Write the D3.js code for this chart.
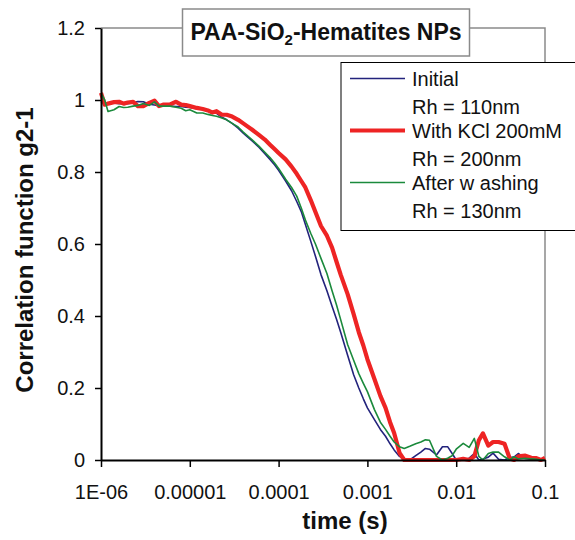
<!DOCTYPE html>
<html>
<head>
<meta charset="utf-8">
<script src="https://cdn.jsdelivr.net/npm/d3@7"></script>
<style>
body{margin:0;background:#fff;}
svg{display:block;font-family:"Liberation Sans",Arial,sans-serif;}
</style>
</head>
<body>
<svg></svg>
<script>
// lag times of the correlator (s), shared by the three curves
const lagTimes = [1e-6, 1.1e-6, 1.2e-6, 1.4e-6, 1.6e-6, 1.8e-6, 2e-6, 2.3e-6, 2.6e-6, 3e-6, 3.5e-6, 4e-6, 4.5e-6, 5e-6, 6e-6, 7e-6, 8e-6, 9e-6,
  1e-5, 1.2e-5, 1.4e-5, 1.6e-5, 1.8e-5, 2e-5, 2.3e-5, 2.6e-5, 3e-5, 3.5e-5, 4e-5, 4.5e-5, 5e-5, 6e-5, 7e-5, 8e-5, 9e-5,
  1e-4, 1.2e-4, 1.4e-4, 1.6e-4, 1.8e-4, 2e-4, 2.3e-4, 2.6e-4, 3e-4, 3.5e-4, 4e-4, 4.5e-4, 5e-4, 6e-4, 7e-4, 8e-4, 9e-4,
  1e-3, 1.2e-3, 1.4e-3, 1.6e-3, 1.8e-3, 2e-3, 2.3e-3, 2.6e-3, 3e-3, 3.5e-3, 4e-3, 4.5e-3, 5e-3, 6e-3, 7e-3, 8e-3, 9e-3,
  1e-2, 1.2e-2, 1.4e-2, 1.6e-2, 1.8e-2, 2e-2, 2.3e-2, 2.6e-2, 3e-2, 3.5e-2, 4e-2, 4.5e-2, 5e-2, 6e-2, 7e-2, 8e-2, 9e-2, 0.1];

// g2-1 values
const g2Initial = [0.995, 0.99, 0.99, 0.992, 0.99, 0.99, 0.99, 0.992, 0.996, 0.995, 0.988, 0.986, 0.984, 0.983, 0.983, 0.982, 0.982, 0.98,
  0.979, 0.976, 0.974, 0.971, 0.966, 0.963, 0.952, 0.945, 0.935, 0.922, 0.908, 0.897, 0.887, 0.869, 0.851, 0.835, 0.82,
  0.805, 0.775, 0.748, 0.718, 0.69, 0.655, 0.608, 0.566, 0.515, 0.47, 0.427, 0.39, 0.355, 0.29, 0.237, 0.2, 0.17,
  0.145, 0.112, 0.085, 0.066, 0.045, 0.028, 0.01, 0.002, 0, 0.012, 0.022, 0.032, 0.03, 0.014, 0.037, 0.037, 0.018,
  0, 0, 0.005, 0.018, 0, 0.003, 0.008, 0.019, 0.002, 0, 0.006, 0.009, 0.018, 0.004, 0.002, 0, 0, 0];

const g2KCl = [1.02, 0.987, 0.99, 0.994, 0.995, 0.99, 0.993, 0.995, 0.983, 0.983, 0.992, 0.998, 0.983, 0.987, 0.988, 0.995, 0.987, 0.986,
  0.983, 0.978, 0.975, 0.971, 0.965, 0.969, 0.959, 0.959, 0.954, 0.945, 0.935, 0.926, 0.918, 0.903, 0.89, 0.876, 0.864,
  0.853, 0.835, 0.815, 0.795, 0.775, 0.757, 0.722, 0.689, 0.65, 0.623, 0.59, 0.55, 0.515, 0.46, 0.405, 0.355, 0.318,
  0.28, 0.225, 0.178, 0.145, 0.105, 0.075, 0.02, 0, 0, 0, 0, 0, 0, 0, 0, 0, 0,
  0, 0.003, 0, 0.01, 0.055, 0.074, 0.04, 0.05, 0.05, 0.045, 0.005, 0, 0.01, 0.012, 0.006, 0.005, 0, 0.006];

const g2Washed = [1.019, 1.0, 0.968, 0.973, 0.982, 0.979, 0.98, 0.983, 0.985, 0.99, 0.985, 0.995, 0.983, 0.983, 0.983, 0.98, 0.977, 0.97,
  0.973, 0.964, 0.964, 0.96, 0.957, 0.955, 0.95, 0.945, 0.935, 0.925, 0.911, 0.9, 0.89, 0.872, 0.855, 0.84, 0.825,
  0.81, 0.78, 0.757, 0.733, 0.7, 0.667, 0.63, 0.6, 0.56, 0.518, 0.47, 0.43, 0.39, 0.32, 0.277, 0.24, 0.213,
  0.19, 0.14, 0.105, 0.085, 0.066, 0.05, 0.037, 0.032, 0.038, 0.045, 0.05, 0.056, 0.055, 0.01, 0, 0.005, 0.012,
  0.03, 0.046, 0.035, 0.06, 0.01, 0, 0.018, 0.022, 0.022, 0.009, 0, 0.009, 0.003, 0.005, 0.003, 0.002, 0, 0];

const xTickValues = [1e-6, 1e-5, 1e-4, 1e-3, 1e-2, 1e-1];
const xTickLabels = ["1E-06", "0.00001", "0.0001", "0.001", "0.01", "0.1"];
const yTickValues = [0, 0.2, 0.4, 0.6, 0.8, 1, 1.2];
const yTickLabels = ["0", "0.2", "0.4", "0.6", "0.8", "1", "1.2"];
const legendLabels = [["Initial", "Rh = 110nm"], ["With KCl 200mM", "Rh = 200nm"], ["After w ashing", "Rh = 130nm"]];

const w = 575;//width of chart
const h = 540;//height of chart
const plotLeft = 101, plotRight = 545, plotTop = 28, plotBottom = 460;//plot area

const colors = ["#23237c", "#ee2424", "#1b8a3c"];
const widths = [1.6, 4.2, 1.6];

let svg = d3.select("svg");
let xScale, yScale;

let drawChart = () => {
  svg.attr("width", w).attr("height", h);
  //gray frame on top and right of the plot area
  svg.append("path")
    .attr("d", `M${plotLeft},${plotTop}H${plotRight}V${plotBottom}`)
    .attr("fill", "none")
    .attr("stroke", "#8a8a8a")
    .attr("stroke-width", 1.5);
};

let generateScales = () => {
  xScale = d3.scaleLog().domain([1e-6, 0.1]).range([plotLeft, plotRight]);
  yScale = d3.scaleLinear().domain([0, 1.2]).range([plotBottom, plotTop]);
};

let drawLines = () => {
  let line = d3.line()
    .x((d, i) => xScale(lagTimes[i]))
    .y(d => yScale(d));
  [g2Initial, g2KCl, g2Washed].forEach((series, k) => {
    svg.append("path")
      .datum(series)
      .attr("d", line)
      .attr("fill", "none")
      .attr("stroke", colors[k])
      .attr("stroke-width", widths[k])
      .attr("stroke-linejoin", "round");
  });
};

let generateAxis = () => {
  let xAxis = d3.axisBottom(xScale)
    .tickValues(xTickValues)
    .tickFormat((d, i) => xTickLabels[i])
    .tickSize(7)
    .tickSizeOuter(0);
  let yAxis = d3.axisLeft(yScale)
    .tickValues(yTickValues)
    .tickFormat((d, i) => yTickLabels[i])
    .tickSize(6)
    .tickSizeOuter(0);

  let gx = svg.append("g")
    .attr("transform", "translate(0," + plotBottom + ")")
    .call(xAxis);
  let gy = svg.append("g")
    .attr("transform", "translate(" + plotLeft + ",0)")
    .call(yAxis);

  [gx, gy].forEach(g => {
    g.select(".domain").attr("stroke", "#000").attr("stroke-width", 2);
    g.selectAll(".tick line").attr("stroke", "#000").attr("stroke-width", 1.5);
    g.selectAll(".tick text")
      .attr("fill", "#111")
      .style("font-size", "20px")
      .style("font-family", "'Liberation Sans', Arial, sans-serif");
  });
  gx.selectAll(".tick text").attr("y", 25);
  gy.selectAll(".tick text").attr("x", -16);

  //axis titles
  svg.append("text")
    .attr("transform", "translate(33,250) rotate(-90)")
    .attr("text-anchor", "middle")
    .style("font-size", "24px")
    .style("font-weight", "bold")
    .attr("fill", "#111")
    .text("Correlation function g2-1");
  svg.append("text")
    .attr("x", 345)
    .attr("y", 529)
    .attr("text-anchor", "middle")
    .style("font-size", "24px")
    .style("font-weight", "bold")
    .attr("fill", "#111")
    .text("time (s)");
};

let drawTitle = () => {
  svg.append("rect")
    .attr("x", 182.5).attr("y", 9)
    .attr("width", 287).attr("height", 47)
    .attr("fill", "#fff")
    .attr("stroke", "#8a8a8a")
    .attr("stroke-width", 1.5);
  let t = svg.append("text")
    .attr("x", 326).attr("y", 40)
    .attr("text-anchor", "middle")
    .style("font-size", "23px")
    .style("font-weight", "bold")
    .attr("fill", "#111");
  t.append("tspan").text("PAA-SiO");
  t.append("tspan").attr("dy", 5).style("font-size", "15px").text("2");
  t.append("tspan").attr("dy", -5).text("-Hematites NPs");
};

let drawLegend = () => {
  svg.append("rect")
    .attr("x", 341).attr("y", 62.5)
    .attr("width", 245).attr("height", 168)
    .attr("fill", "#fff")
    .attr("stroke", "#000")
    .attr("stroke-width", 1);
  let items = svg.selectAll(".legend-item")
    .data(legendLabels)
    .enter()
    .append("g")
    .attr("class", "legend-item")
    .attr("transform", (d, i) => "translate(0," + (86 + 52 * i) + ")");
  items.append("line")
    .attr("x1", 350).attr("x2", 405)
    .attr("y1", -7.5).attr("y2", -7.5)
    .attr("stroke", (d, i) => colors[i])
    .attr("stroke-width", (d, i) => widths[i]);
  items.append("text")
    .attr("x", 412).attr("y", 0)
    .style("font-size", "20px")
    .attr("fill", "#111")
    .text(d => d[0]);
  items.append("text")
    .attr("x", 412).attr("y", 27.5)
    .style("font-size", "20px")
    .attr("fill", "#111")
    .text(d => d[1]);
};

drawChart();
generateScales();
drawLines();
generateAxis();
drawTitle();
drawLegend();
</script>
</body>
</html>
